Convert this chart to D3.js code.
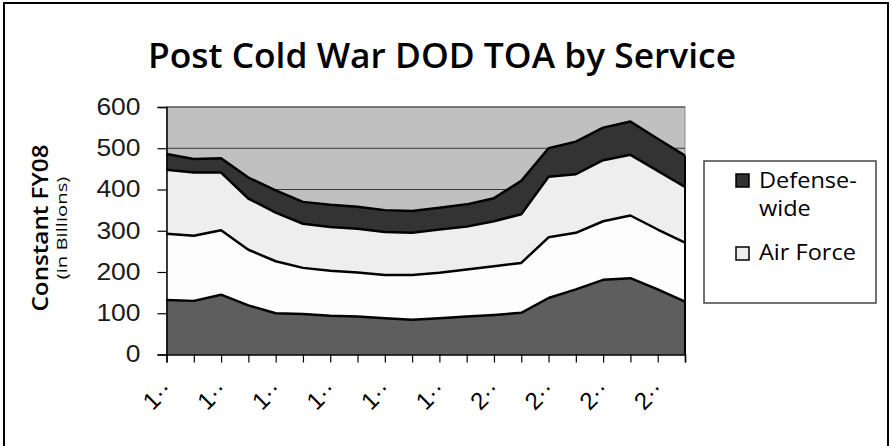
<!DOCTYPE html>
<html>
<head>
<meta charset="utf-8">
<script src="https://cdn.jsdelivr.net/npm/d3@7"></script>
<style>
  body { margin: 0; background: #fff; }
  svg { display: block; }
</style>
</head>
<body>
<svg id="chart" width="891" height="446"></svg>
<script>
// fiscal years (labels get cut off in the original, only first digit shows)
const years = ["1989","1990","1991","1992","1993","1994","1995","1996","1997","1998",
               "1999","2000","2001","2002","2003","2004","2005","2006","2007","2008"];
const tickLabels = ["1··","","1··","","1··","","1··","","1··","",
                    "1··","","2··","","2··","","2··","","2··",""];

// TOA in constant FY08 $ billions
const army        = [132,130,145,119,100, 98, 94, 92, 88, 84, 88, 92, 96,101,137,158,181,185,158,128];
const navy        = [161,158,156,135,126,112,109,107,105,109,110,114,118,121,147,137,142,152,145,143];
const airForce    = [155,153,140,124,118,107,106,106,104,102,105,104,109,118,147,142,148,147,142,135];
const defenseWide = [ 38, 33, 35, 51, 54, 53, 54, 53, 53, 53, 53, 54, 56, 81, 69, 79, 79, 81, 78, 76];

const yTicks = [0,100,200,300,400,500,600];

const keys = ["Army","Navy","Air Force","Defense-wide"];
const colors = {"Army":"#5e5e5e","Navy":"#fdfdfd","Air Force":"#eeeeee","Defense-wide":"#333333"};

const rows = years.map((y, i) => ({
  year: y,
  "Army": army[i],
  "Navy": navy[i],
  "Air Force": airForce[i],
  "Defense-wide": defenseWide[i]
}));

// the source picture is a bit wide-stretched, so widen glyphs along the text
function stretch(sel, factor) {
  sel.each(function () {
    const len = this.getComputedTextLength();
    d3.select(this)
      .attr("textLength", len * factor)
      .attr("lengthAdjust", "spacingAndGlyphs");
  });
}

const svg = d3.select("#chart");
const plot = {left: 166.5, right: 685, top: 107, bottom: 354.5};

// outer frame
svg.append("rect")
  .attr("x", 4).attr("y", 3)
  .attr("width", 884).attr("height", 470)
  .attr("fill", "none").attr("stroke", "#000").attr("stroke-width", 2);

// title
svg.append("text")
  .attr("x", 442).attr("y", 68)
  .attr("text-anchor", "middle")
  .attr("font-family", "'Open Sans', sans-serif")
  .attr("font-weight", 600)
  .attr("font-size", 35)
  .attr("fill", "#000")
  .text("Post Cold War DOD TOA by Service")
  .call(stretch, 1.01);

const x = d3.scalePoint()
  .domain(years)
  .range([plot.left, plot.right]);

const y = d3.scaleLinear()
  .domain([0, 600])
  .range([plot.bottom, plot.top]);

// plot area background
svg.append("rect")
  .attr("x", plot.left).attr("y", plot.top)
  .attr("width", plot.right - plot.left)
  .attr("height", plot.bottom - plot.top)
  .attr("fill", "#c0c0c0")
  .attr("stroke", "#8a8a8a").attr("stroke-width", 1);

// gridlines
svg.append("g")
  .selectAll("line")
  .data(yTicks.filter(d => d > 0))
  .join("line")
  .attr("x1", plot.left).attr("x2", plot.right)
  .attr("y1", d => y(d)).attr("y2", d => y(d))
  .attr("stroke", "#3a3a3a").attr("stroke-width", 1);

// stacked areas
const series = d3.stack().keys(keys)(rows);

const area = d3.area()
  .x(d => x(d.data.year))
  .y0(d => y(d[0]))
  .y1(d => y(d[1]));

const topLine = d3.line()
  .x(d => x(d.data.year))
  .y(d => y(d[1]));

svg.append("g")
  .selectAll("path")
  .data(series)
  .join("path")
  .attr("d", area)
  .attr("fill", d => colors[d.key]);

svg.append("g")
  .selectAll("path")
  .data(series)
  .join("path")
  .attr("d", topLine)
  .attr("fill", "none")
  .attr("stroke", "#000")
  .attr("stroke-width", 2.5)
  .attr("stroke-linejoin", "round");

// right edge of the plot
svg.append("line")
  .attr("x1", plot.right).attr("x2", plot.right)
  .attr("y1", y(d3.sum(keys, k => rows[rows.length - 1][k])))
  .attr("y2", plot.bottom)
  .attr("stroke", "#000").attr("stroke-width", 2);

// y axis
const yAxis = d3.axisLeft(y)
  .tickValues(yTicks)
  .tickSize(9)
  .tickPadding(17);
svg.append("g")
  .attr("transform", `translate(${plot.left},0)`)
  .call(yAxis)
  .call(g => g.select(".domain").attr("stroke", "#000").attr("stroke-width", 1.5))
  .call(g => g.selectAll(".tick line").attr("stroke", "#000").attr("stroke-width", 1.2))
  .call(g => g.selectAll("text")
    .attr("font-family", "'Liberation Sans', Arial, sans-serif")
    .attr("font-size", 23)
    .attr("fill", "#1a1a1a")
    .call(stretch, 1.15));

// x axis
const xAxis = d3.axisBottom(x)
  .tickSize(8)
  .tickFormat(() => "");
svg.append("g")
  .attr("transform", `translate(0,${plot.bottom})`)
  .call(xAxis)
  .call(g => g.select(".domain").attr("stroke", "#000").attr("stroke-width", 1.5))
  .call(g => g.selectAll(".tick line").attr("stroke", "#000").attr("stroke-width", 1.2));

svg.append("g")
  .selectAll("text")
  .data(years.map((yr, i) => ({yr, label: tickLabels[i]})).filter(d => d.label))
  .join("text")
  .attr("transform", d => `translate(${x(d.yr) + 7},${plot.bottom + 36}) rotate(-45)`)
  .attr("text-anchor", "end")
  .attr("font-family", "'Liberation Sans', Arial, sans-serif")
  .attr("font-size", 24)
  .attr("fill", "#000")
  .text(d => d.label);

// y axis title
const yTitle = svg.append("g").attr("transform", "translate(48,228) rotate(-90)");
yTitle.append("text")
  .attr("text-anchor", "middle")
  .attr("font-family", "'Open Sans', sans-serif")
  .attr("font-weight", 600)
  .attr("font-size", 22)
  .text("Constant FY08")
  .call(stretch, 1.1);
yTitle.append("text")
  .attr("y", 19)
  .attr("text-anchor", "middle")
  .attr("font-family", "'Open Sans', sans-serif")
  .attr("font-size", 15)
  .text("(in Billions)")
  .call(stretch, 1.35);

// legend (clipped like the original: only the top two entries fit)
const legend = svg.append("g");
legend.append("rect")
  .attr("x", 704).attr("y", 161)
  .attr("width", 172).attr("height", 142)
  .attr("fill", "#fff")
  .attr("stroke", "#444").attr("stroke-width", 1.5);

const legendItems = [
  {key: "Defense-wide", lines: ["Defense-", "wide"], boxY: 174, textY: 188},
  {key: "Air Force", lines: ["Air Force"], boxY: 247, textY: 260}
];

legendItems.forEach(it => {
  legend.append("rect")
    .attr("x", 736).attr("y", it.boxY)
    .attr("width", 13).attr("height", 13)
    .attr("fill", colors[it.key])
    .attr("stroke", "#000").attr("stroke-width", 1.5);
  it.lines.forEach((ln, j) => {
    legend.append("text")
      .attr("x", 759).attr("y", it.textY + j * 28)
      .attr("font-family", "'Open Sans', sans-serif")
      .attr("font-size", 21)
      .attr("fill", "#000")
      .text(ln)
      .call(stretch, 1.12);
  });
});
</script>
</body>
</html>
